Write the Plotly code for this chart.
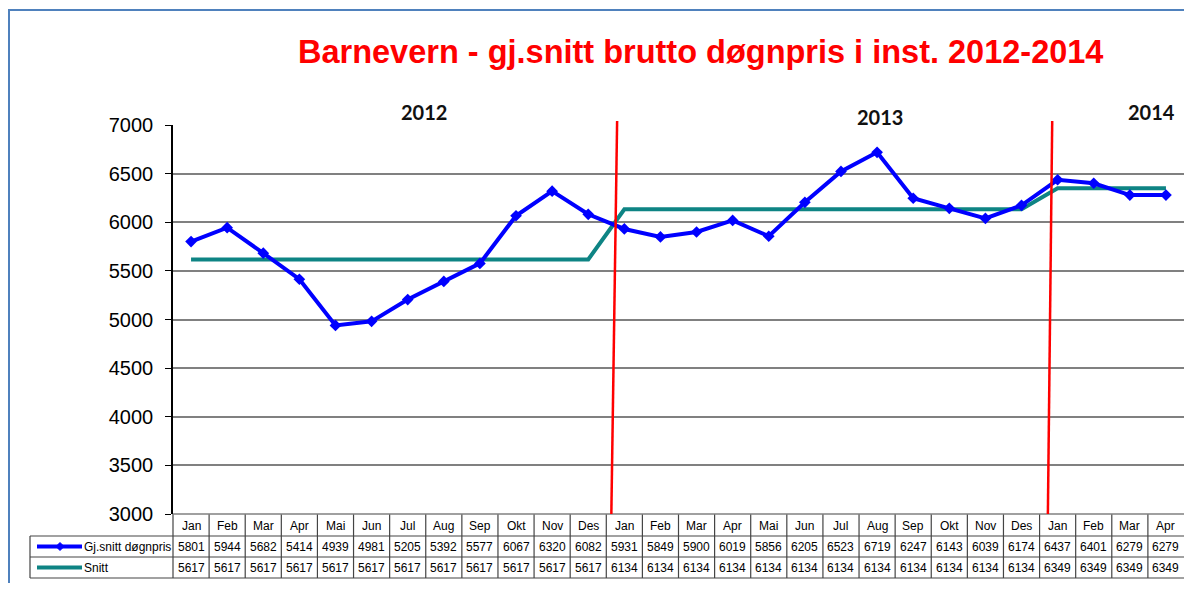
import plotly.graph_objects as go

# ---------------- data ----------------
months = ["Jan", "Feb", "Mar", "Apr", "Mai", "Jun", "Jul", "Aug", "Sep", "Okt", "Nov", "Des",
          "Jan", "Feb", "Mar", "Apr", "Mai", "Jun", "Jul", "Aug", "Sep", "Okt", "Nov", "Des",
          "Jan", "Feb", "Mar", "Apr"]
gj_snitt = [5801, 5944, 5682, 5414, 4939, 4981, 5205, 5392, 5577, 6067, 6320, 6082,
            5931, 5849, 5900, 6019, 5856, 6205, 6523, 6719, 6247, 6143, 6039, 6174,
            6437, 6401, 6279, 6279]
snitt = [5617, 5617, 5617, 5617, 5617, 5617, 5617, 5617, 5617, 5617, 5617, 5617,
         6134, 6134, 6134, 6134, 6134, 6134, 6134, 6134, 6134, 6134, 6134, 6134,
         6349, 6349, 6349, 6349]
series_names = ["Gj.snitt døgnpris", "Snitt"]
years = ["2012", "2013", "2014"]
y_ticks = [3000, 3500, 4000, 4500, 5000, 5500, 6000, 6500, 7000]
title = "Barnevern - gj.snitt brutto døgnpris i inst. 2012-2014"

# ---------------- geometry helpers ----------------
# The page body adds an 8px margin, so figure pixels = screen pixels - OFF.
# Keep the figure inside the window so no scrollbars appear.
OFF = 8
W, H = 1192 - 2 * OFF, 591 - 2 * OFF
L = 173 - OFF            # y-axis at screen x=173
T = 125 - OFF            # 7000 line at screen y=125
PLOT_RIGHT = W           # plot area ends at right edge of figure
PLOT_BOTTOM = 514 - OFF  # 3000 line at screen y=514
R = W - PLOT_RIGHT
B = H - PLOT_BOTTOM
PW = W - L - R
PH = H - T - B


def px(x):
    """screen x pixel -> paper coordinate"""
    return (x - OFF - L) / PW


def py(y):
    """screen y pixel -> paper coordinate"""
    return (PLOT_BOTTOM - (y - OFF)) / PH


xs = list(range(len(months)))
FONT = "Liberation Sans, Arial, sans-serif"

fig = go.Figure()
fig.add_trace(go.Scatter(x=xs, y=snitt, mode="lines", name=series_names[1],
                         line=dict(color="#0E8484", width=4)))
fig.add_trace(go.Scatter(x=xs, y=gj_snitt, mode="lines+markers", name=series_names[0],
                         line=dict(color="#0000FF", width=4),
                         marker=dict(symbol="diamond", size=9, color="#0000FF")))

shapes = []
annotations = []

# outer blue frame (document border)
shapes.append(dict(type="rect", xref="paper", yref="paper",
                   x0=px(9), x1=px(1215), y0=py(10), y1=py(615),
                   line=dict(color="#4F81BD", width=2), layer="below"))

# table lines
tcol = "#444444"
for yy in [536, 557, 578]:
    shapes.append(dict(type="line", xref="paper", yref="paper",
                       x0=px(30), x1=px(1200), y0=py(yy), y1=py(yy),
                       line=dict(color=tcol, width=1.2)))
shapes.append(dict(type="line", xref="paper", yref="paper",
                   x0=px(30), x1=px(30), y0=py(536), y1=py(578),
                   line=dict(color=tcol, width=1.2)))
shapes.append(dict(type="line", xref="paper", yref="paper",
                   x0=px(173), x1=px(173), y0=py(514), y1=py(578),
                   line=dict(color=tcol, width=1.2)))
for i in range(len(months) - 1):
    shapes.append(dict(type="line", xref="x", yref="paper",
                       x0=i + 0.5, x1=i + 0.5, y0=py(514), y1=py(578),
                       line=dict(color=tcol, width=1.2)))
# bottom axis line (3000)
shapes.append(dict(type="line", xref="paper", yref="paper",
                   x0=px(173), x1=px(1200), y0=py(514), y1=py(514),
                   line=dict(color="#808080", width=1.5)))

# red year separators
shapes.append(dict(type="line", xref="x", yref="paper",
                   x0=11.64, x1=11.80, y0=py(514), y1=py(121),
                   line=dict(color="#FF0000", width=2.5), layer="above"))
shapes.append(dict(type="line", xref="x", yref="paper",
                   x0=23.73, x1=23.85, y0=py(514), y1=py(121),
                   line=dict(color="#FF0000", width=2.5), layer="above"))

# legend keys in table
shapes.append(dict(type="line", xref="paper", yref="paper",
                   x0=px(37), x1=px(82), y0=py(546.5), y1=py(546.5),
                   line=dict(color="#0000FF", width=4)))
d = 4
cx, cy = 60, 546.5
path = "M {} {} L {} {} L {} {} L {} {} Z".format(
    px(cx - d), py(cy), px(cx), py(cy - d), px(cx + d), py(cy), px(cx), py(cy + d))
shapes.append(dict(type="path", xref="paper", yref="paper", path=path,
                   fillcolor="#0000FF", line=dict(color="#0000FF", width=1)))
shapes.append(dict(type="line", xref="paper", yref="paper",
                   x0=px(37), x1=px(82), y0=py(567.5), y1=py(567.5),
                   line=dict(color="#0E8484", width=4)))

# table text
tfont = dict(family=FONT, size=12, color="#000000")
for i, m in enumerate(months):
    annotations.append(dict(x=i, y=py(525.5), xref="x", yref="paper", text=m,
                            showarrow=False, font=tfont, xanchor="center", yanchor="middle"))
    annotations.append(dict(x=i, y=py(546.5), xref="x", yref="paper", text=str(gj_snitt[i]),
                            showarrow=False, font=tfont, xanchor="center", yanchor="middle"))
    annotations.append(dict(x=i, y=py(567.5), xref="x", yref="paper", text=str(snitt[i]),
                            showarrow=False, font=tfont, xanchor="center", yanchor="middle"))
annotations.append(dict(x=px(82), y=py(546.5), xref="paper", yref="paper", text=series_names[0],
                        showarrow=False, font=tfont, xanchor="left", yanchor="middle"))
annotations.append(dict(x=px(82), y=py(567.5), xref="paper", yref="paper", text=series_names[1],
                        showarrow=False, font=tfont, xanchor="left", yanchor="middle"))

# title
annotations.append(dict(x=px(700), y=py(52), xref="paper", yref="paper",
                        text="<b>" + title + "</b>", showarrow=False,
                        font=dict(family=FONT, size=32.5, color="#FF0000"),
                        xanchor="center", yanchor="middle"))

# year labels
for txt, xx, yy in zip(years, [424, 880, 1151], [112, 117, 112]):
    annotations.append(dict(x=px(xx), y=py(yy), xref="paper", yref="paper",
                            text="<b>" + txt + "</b>", showarrow=False,
                            font=dict(family="Lato, Carlito, sans-serif", size=20, color="#111111"),
                            xanchor="center", yanchor="middle"))

fig.update_layout(
    width=W, height=H,
    margin=dict(l=L, r=R, t=T, b=B, pad=0),
    paper_bgcolor="white", plot_bgcolor="white",
    showlegend=False,
    xaxis=dict(range=[-0.5, len(months) - 0.5], showticklabels=False, showgrid=False,
               zeroline=False, showline=False, ticks=""),
    yaxis=dict(range=[3000, 7000], tickvals=y_ticks, showgrid=True, gridcolor="#808080",
               gridwidth=1.5, showline=True, linecolor="#000000", linewidth=1.5,
               ticks="outside", ticklen=6, tickcolor="#000000", tickwidth=1.2,
               ticklabelstandoff=8,
               tickfont=dict(family=FONT, size=20, color="#000000"), zeroline=False),
    shapes=shapes,
    annotations=annotations,
)

fig.write_html("out.html")
